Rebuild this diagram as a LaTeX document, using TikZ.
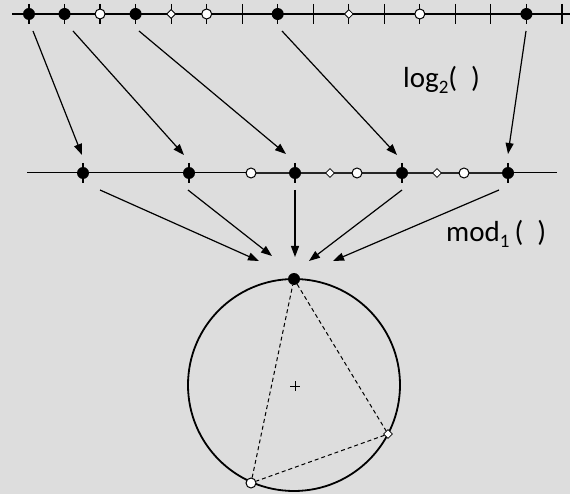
\documentclass[tikz,border=0pt]{standalone}
\usepackage{fontspec}
\setmainfont{Carlito}
\usetikzlibrary{arrows.meta,shapes.geometric}
\definecolor{bg}{RGB}{221,221,221}
\begin{document}
\begin{tikzpicture}[x=1pt,y=-1pt,
  filled/.style={circle,fill=black,inner sep=0pt,minimum size=12pt},
  hollow/.style={circle,draw=black,fill=white,inner sep=0pt,minimum size=10pt,line width=1pt},
  dia/.style={diamond,draw=black,fill=white,inner sep=0pt,minimum size=9pt,line width=0.8pt},
  ticmark/.style={line width=1.2pt},
  arr/.style={-{Triangle[length=11pt,width=8pt]},line width=1.2pt},
  lbl/.style={font=\fontsize{29}{29}\selectfont,anchor=base west,inner sep=0pt}]
\fill[bg] (0,0) rectangle (570,494);
\useasboundingbox (0,0) rectangle (570,494);

% top linear scale
\draw[line width=1.2pt] (12,14) -- (570,14);
\foreach \k in {0,...,15} \draw[ticmark] ({29+35.53*\k},4) -- ++(0,20);
\node[filled] (t0)  at (29,14) {};
\node[filled] (t1)  at ({29+35.53*1},14) {};
\node[hollow] (t2)  at ({29+35.53*2},14) {};
\node[filled] (t3)  at ({29+35.53*3},14) {};
\node[dia]    (t4)  at ({29+35.53*4},14) {};
\node[hollow] (t5)  at ({29+35.53*5},14) {};
\node[filled] (t7)  at ({29+35.53*7},14) {};
\node[dia]    (t9)  at ({29+35.53*9},14) {};
\node[hollow] (t11) at ({29+35.53*11},14) {};
\node[filled] (t14) at ({29+35.53*14},14) {};

% middle log scale
\draw[line width=1pt] (27,173) -- (557,173);
\draw[line width=2.4pt,black!85] (251,173) -- (508,173);
\foreach \x in {83,189,295,402,508} \draw[ticmark] (\x,163) -- (\x,183);
\node[filled] (m1) at (83,173) {};
\node[filled] (m2) at (189,173) {};
\node[hollow] (m3) at (251,173) {};
\node[filled] (m4) at (295,173) {};
\node[dia]    (m5) at (330,173) {};
\node[hollow] (m6) at (357,173) {};
\node[filled] (m8) at (402,173) {};
\node[dia]    (m10) at (437,173) {};
\node[hollow] (m12) at (464,173) {};
\node[filled] (m16) at (508,173) {};

% circle
\node[circle,draw,line width=1.8pt,minimum size=212pt,inner sep=0pt] (ring) at (294,385) {};
\draw[line width=0.7pt] (290,386) -- (300,386) (295,381) -- (295,391);
\node[filled] (c1) at (294,279) {};
\node[dia]    (c5) at (388,434) {};
\node[hollow] (c3) at (251,483) {};
\draw[dashed,dash pattern=on 4pt off 3pt,line width=1pt] (c1) -- (c5) -- (c3) -- (c1);

% arrows top -> middle
\coordinate (a1s) at (33,31);  \coordinate (a1e) at (82,155);
\coordinate (a2s) at (73,31);  \coordinate (a2e) at (184,155);
\coordinate (a3s) at (139,31); \coordinate (a3e) at (286,154);
\coordinate (a4s) at (282,31); \coordinate (a4e) at (397,155);
\coordinate (a5s) at (526,31); \coordinate (a5e) at (508,154);
\foreach \i in {1,...,5} \draw[arr] (a\i s) -- (a\i e);

% arrows middle -> circle
\coordinate (b1s) at (100,190); \coordinate (b1e) at (259,261);
\coordinate (b2s) at (188,190); \coordinate (b2e) at (272,256);
\coordinate (b3s) at (295,190); \coordinate (b3e) at (295,257);
\coordinate (b4s) at (402,190); \coordinate (b4e) at (309,261);
\coordinate (b5s) at (499,190); \coordinate (b5e) at (333,261);
\foreach \i in {1,...,5} \draw[arr] (b\i s) -- (b\i e);

% labels
\node[lbl] (lg) at (403,88) {log\raisebox{-6pt}{\fontsize{19}{19}\selectfont 2}(\hspace{14pt})};
\node[lbl] (md) at (446,242) {mod\raisebox{-6pt}{\fontsize{19}{19}\selectfont 1}\hspace{5pt}(\hspace{14pt})};
\end{tikzpicture}
\end{document}
